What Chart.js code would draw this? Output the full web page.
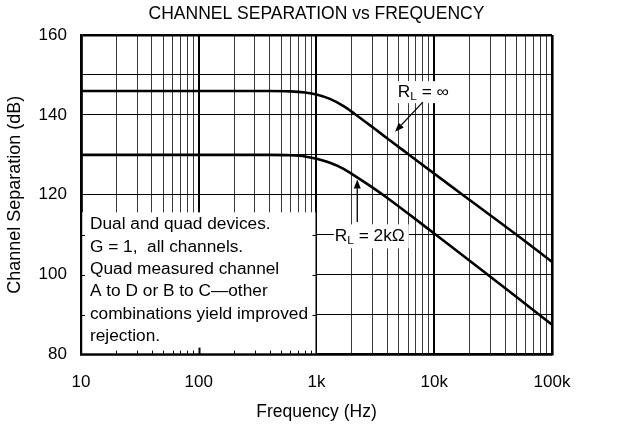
<!DOCTYPE html>
<html>
<head>
<meta charset="utf-8">
<script src="https://cdn.jsdelivr.net/npm/chart.js@4.4.1/dist/chart.umd.min.js"></script>
<style>
  html, body { margin: 0; padding: 0; background: #fff; }
  #wrap { width: 639px; height: 424px; }
</style>
</head>
<body>
<div id="wrap"><canvas id="chart"></canvas></div>
<script>
// --- data ---
const FREQ   = [10, 100, 400, 600, 800, 1000, 1300, 1700, 2100, 3000, 4000, 6000, 10000, 20000, 50000, 100000];
const RL_INF = [146, 146, 146, 145.9, 145.6, 145.1, 144.0, 142.2, 140.3, 136.9, 134.1, 130.2, 125.3, 118.7, 110.0, 103.2];
const RL_2K  = [130, 130, 130, 129.9, 129.6, 129.0, 128.0, 126.5, 124.8, 121.8, 119.2, 115.3, 110.3, 103.5, 94.4, 87.5];

const X_LABELS = { 10: "10", 100: "100", 1000: "1k", 10000: "10k", 100000: "100k" };
const Y_TICKS = [80, 90, 100, 110, 120, 130, 140, 150, 160];
const Y_LABELS = [80, 100, 120, 140, 160];
const NOTE_LINES = [
  "Dual and quad devices.",
  "G = 1,  all channels.",
  "Quad measured channel",
  "A to D or B to C\u2014other",
  "combinations yield improved",
  "rejection."
];

const FONT = "'Liberation Sans', Arial, Helvetica, sans-serif";

// every 1..9 x decade gets a grid line
const X_GRID = [];
for (let d = 10; d <= 10000; d *= 10) for (let m = 1; m < 10; m++) X_GRID.push(m * d);
X_GRID.push(100000);

const isDecade = v => X_LABELS[v] !== undefined;

/* note box, curve labels and arrows */
function drawRL(ctx, x, y, rest) {
  ctx.save();
  ctx.translate(x, y);
  ctx.scale(1.08, 1);
  ctx.textBaseline = "middle";
  ctx.textAlign = "left";
  ctx.font = `16px ${FONT}`;
  ctx.fillText("R", 0, 0);
  let w = ctx.measureText("R").width;
  ctx.font = `11px ${FONT}`;
  ctx.fillText("L", w, 5);
  w += ctx.measureText("L").width;
  ctx.font = `16px ${FONT}`;
  ctx.fillText(rest, w, 0);
  w += ctx.measureText(rest).width;
  ctx.restore();
  return w * 1.08;
}

function arrow(ctx, x0, y0, x1, y1) {
  const a = Math.atan2(y1 - y0, x1 - x0), L = 9, W = 3.5;
  ctx.beginPath();
  ctx.moveTo(x0, y0);
  ctx.lineTo(x1 - L * Math.cos(a), y1 - L * Math.sin(a));
  ctx.lineWidth = 1.3;
  ctx.stroke();
  ctx.beginPath();
  ctx.moveTo(x1, y1);
  ctx.lineTo(x1 - L * Math.cos(a) + W * Math.sin(a), y1 - L * Math.sin(a) - W * Math.cos(a));
  ctx.lineTo(x1 - L * Math.cos(a) - W * Math.sin(a), y1 - L * Math.sin(a) + W * Math.cos(a));
  ctx.closePath();
  ctx.fill();
}

const notes = {
  id: "notes",
  beforeDatasetsDraw(chart) {
    const { ctx, chartArea: a, scales: { x, y } } = chart;
    const x0 = a.left, x1 = x.getPixelForValue(1000), y0 = y.getPixelForValue(115.6), y1 = a.bottom;
    ctx.save();
    ctx.fillStyle = "#fff";
    ctx.fillRect(x0 + 1.3, y0, x1 - 1 - (x0 + 1.3), y1 - 1.3 - y0);

    ctx.strokeStyle = "#000";
    X_GRID.filter(v => v > 10 && v < 1000).forEach(v => {
      const px = Math.round(x.getPixelForValue(v)) + 0.5;
      const major = isDecade(v);
      ctx.lineWidth = major ? 2 : 1;
      ctx.beginPath();
      ctx.moveTo(px, y1);
      ctx.lineTo(px, y1 - (major ? 7 : 4));
      ctx.stroke();
    });
    ctx.lineWidth = 1;
    Y_TICKS.filter(v => v > 80 && v < 115).forEach(v => {
      const py = Math.round(y.getPixelForValue(v)) + 0.5;
      ctx.beginPath();
      ctx.moveTo(x0, py); ctx.lineTo(x0 + 4, py);
      ctx.moveTo(x1, py); ctx.lineTo(x1 - 4, py);
      ctx.stroke();
    });

    ctx.fillStyle = "#000";
    ctx.font = `16px ${FONT}`;
    ctx.textBaseline = "middle";
    ctx.textAlign = "left";
    NOTE_LINES.forEach((t, i) => {
      ctx.save();
      ctx.translate(x0 + 9, y0 + 12.5 + i * 22.4);
      ctx.scale(1.08, 1);
      ctx.fillText(t, 0, 0);
      ctx.restore();
    });
    ctx.restore();
  },
  afterDatasetsDraw(chart) {
    const { ctx, scales: { x, y } } = chart;
    ctx.save();
    ctx.fillStyle = "#000";
    ctx.strokeStyle = "#000";

    // R_L = infinity
    let lx = x.getPixelForValue(4900), ly = y.getPixelForValue(145.7);
    ctx.fillStyle = "#fff";
    ctx.fillRect(lx - 2, ly - 11, 58, 22);
    ctx.fillStyle = "#000";
    drawRL(ctx, lx, ly, " = \u221E");
    arrow(ctx, x.getPixelForValue(8000), y.getPixelForValue(143.2),
               x.getPixelForValue(4650), y.getPixelForValue(135.8));

    // R_L = 2k ohm
    lx = x.getPixelForValue(1430); ly = y.getPixelForValue(109.6);
    ctx.fillStyle = "#fff";
    ctx.fillRect(lx - 1, ly - 12, 75, 24);
    ctx.fillStyle = "#000";
    drawRL(ctx, lx, ly, " = 2k\u03A9");
    arrow(ctx, x.getPixelForValue(2220), y.getPixelForValue(113.2),
               x.getPixelForValue(2220), y.getPixelForValue(123.8));
    ctx.restore();
  }
};

const pts = ys => FREQ.map((f, i) => ({ x: f, y: ys[i] }));

new Chart(document.getElementById("chart"), {
  type: "line",
  data: {
    datasets: [
      { label: "RL = inf", data: pts(RL_INF), borderColor: "#000", borderWidth: 2.6,
        pointRadius: 0, cubicInterpolationMode: "monotone", fill: false },
      { label: "RL = 2k", data: pts(RL_2K), borderColor: "#000", borderWidth: 2.6,
        pointRadius: 0, cubicInterpolationMode: "monotone", fill: false },
    ],
  },
  options: {
    responsive: true,
    maintainAspectRatio: false,
    animation: false,
    layout: { padding: { left: 4, right: 87, top: 4, bottom: 1 } },
    plugins: {
      legend: { display: false },
      tooltip: { enabled: false },
      title: {
        display: true,
        fullSize: false,
        text: "CHANNEL SEPARATION vs FREQUENCY",
        color: "#000",
        font: { family: FONT, size: 17.5, weight: "normal" },
        padding: { top: 0, bottom: 10 },
      },
    },
    scales: {
      x: {
        type: "logarithmic",
        min: 10, max: 100000,
        afterBuildTicks: s => { s.ticks = X_GRID.map(v => ({ value: v })); },
        ticks: {
          autoSkip: false, maxRotation: 0, padding: 18, color: "#000",
          font: { family: FONT, size: 17 },
          callback: v => X_LABELS[v] || "",
        },
        grid: {
          drawTicks: false,
          color: c => (c.tick && isDecade(c.tick.value)) ? "#000" : "#3a3a3a",
          lineWidth: c => {
            const v = c.tick ? c.tick.value : 0;
            if (v === 10 || v === 100000) return 2.6;
            return isDecade(v) ? 2 : 1;
          },
        },
        border: { display: true, color: "#000", width: 2.6 },
        title: { display: true, text: "Frequency (Hz)", color: "#000",
                 font: { family: FONT, size: 17.5 }, padding: { top: -9, bottom: 0 } },
      },
      y: {
        min: 80, max: 160,
        afterBuildTicks: s => { s.ticks = Y_TICKS.map(v => ({ value: v })); },
        ticks: {
          padding: 14, color: "#000", font: { family: FONT, size: 17 },
          callback: v => Y_LABELS.includes(v) ? String(v) : "",
        },
        grid: {
          drawTicks: false,
          color: "#000",
          lineWidth: c => (c.tick && (c.tick.value === 160 || c.tick.value === 80)) ? 2.6 : 1,
        },
        border: { display: true, color: "#000", width: 2.6 },
        title: { display: true, text: "Channel Separation (dB)", color: "#000",
                 font: { family: FONT, size: 18 }, padding: { top: 0, bottom: -1 } },
      },
    },
  },
  plugins: [notes],
});
</script>
</body>
</html>
